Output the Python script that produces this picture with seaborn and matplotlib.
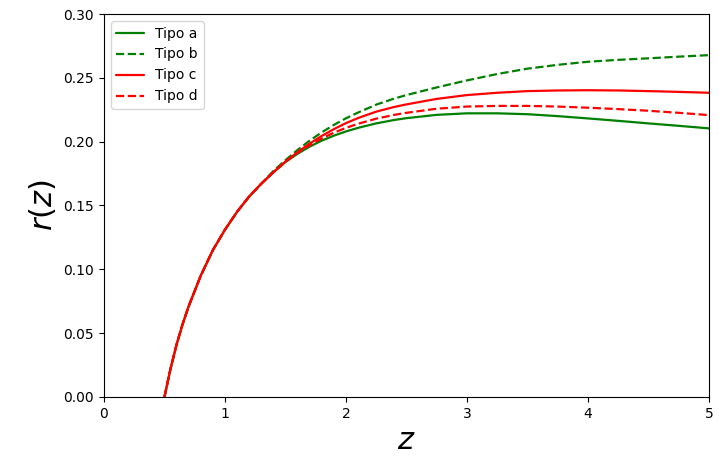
import numpy as np
import pandas as pd
import matplotlib
matplotlib.use("Agg")
import matplotlib.pyplot as plt
import seaborn as sns

z = [0.50, 0.55, 0.60, 0.65, 0.70, 0.80, 0.90, 1.00, 1.10, 1.20, 1.30, 1.40, 1.50,
     1.60, 1.70, 1.80, 1.90, 2.00, 2.10, 2.25, 2.40, 2.50, 2.75, 3.00, 3.25, 3.50,
     3.75, 4.00, 4.25, 4.50, 4.75, 5.00]

tipo_a = [0.000, 0.022, 0.041, 0.057, 0.071, 0.095, 0.115, 0.131, 0.145, 0.157, 0.167, 0.176, 0.184,
          0.1905, 0.1961, 0.2008, 0.2047, 0.2080, 0.2108, 0.2143, 0.2170, 0.2184, 0.2210, 0.2222, 0.2222, 0.2215,
          0.2200, 0.2182, 0.2163, 0.2143, 0.2124, 0.2104]
tipo_b = [0.000, 0.022, 0.041, 0.057, 0.071, 0.095, 0.115, 0.131, 0.145, 0.157, 0.167, 0.177, 0.1855,
          0.1935, 0.2008, 0.2073, 0.2131, 0.2183, 0.2228, 0.2290, 0.2338, 0.2365, 0.2425, 0.2480, 0.2530, 0.2572,
          0.2602, 0.2626, 0.2641, 0.2653, 0.2666, 0.2678]
tipo_c = [0.000, 0.022, 0.041, 0.057, 0.071, 0.095, 0.115, 0.131, 0.145, 0.157, 0.167, 0.176, 0.1845,
          0.1918, 0.1985, 0.2045, 0.2098, 0.2145, 0.2185, 0.2235, 0.2272, 0.2292, 0.2335, 0.2365, 0.2383, 0.2396,
          0.2401, 0.2403, 0.2401, 0.2396, 0.2390, 0.2383]
tipo_d = [0.000, 0.022, 0.041, 0.057, 0.071, 0.095, 0.115, 0.131, 0.145, 0.157, 0.167, 0.176, 0.1842,
          0.1912, 0.1972, 0.2025, 0.2070, 0.2108, 0.2140, 0.2180, 0.2210, 0.2226, 0.2258, 0.2275, 0.2280, 0.2280,
          0.2275, 0.2266, 0.2255, 0.2242, 0.2226, 0.2208]

labels = ["Tipo a", "Tipo b", "Tipo c", "Tipo d"]
series = [tipo_a, tipo_b, tipo_c, tipo_d]

df = pd.concat([pd.DataFrame({"z": z, "r": s, "tipo": lab}) for lab, s in zip(labels, series)],
               ignore_index=True)

sns.set_style("ticks")
plt.rcParams['font.family'] = ['DejaVu Sans']

fig = plt.figure(figsize=(7.19, 4.68), dpi=100)
ax = fig.add_axes([0.1446, 0.152, 0.8414, 0.818])

palette = {"Tipo a": "green", "Tipo b": "green", "Tipo c": "red", "Tipo d": "red"}
dashes = {"Tipo a": "", "Tipo b": (3.7, 1.6), "Tipo c": "", "Tipo d": (3.7, 1.6)}

sns.lineplot(data=df, x="z", y="r", hue="tipo", style="tipo", palette=palette,
             dashes=dashes, linewidth=1.6, ax=ax, sort=False, estimator=None)

ax.set_xlim(0, 5)
ax.set_ylim(0, 0.30)
ax.set_xticks([0, 1, 2, 3, 4, 5])
ax.set_yticks([0.00, 0.05, 0.10, 0.15, 0.20, 0.25, 0.30])
ax.set_yticklabels(["0.00", "0.05", "0.10", "0.15", "0.20", "0.25", "0.30"])
ax.tick_params(labelsize=10, direction="out", length=3.5, width=0.8, colors="black")
for sp in ax.spines.values():
    sp.set_color("black")
    sp.set_linewidth(0.8)
ax.set_xlabel("$z$", fontsize=22, color="black")
ax.set_ylabel("$r(z)$", fontsize=22, color="black")
leg = ax.legend(loc="upper left", fontsize=10, title=None, frameon=True, framealpha=0.8,
                edgecolor="#cccccc", handlelength=2.0)
for t in leg.get_texts():
    t.set_color("black")

fig.savefig("out.png", dpi=100)
